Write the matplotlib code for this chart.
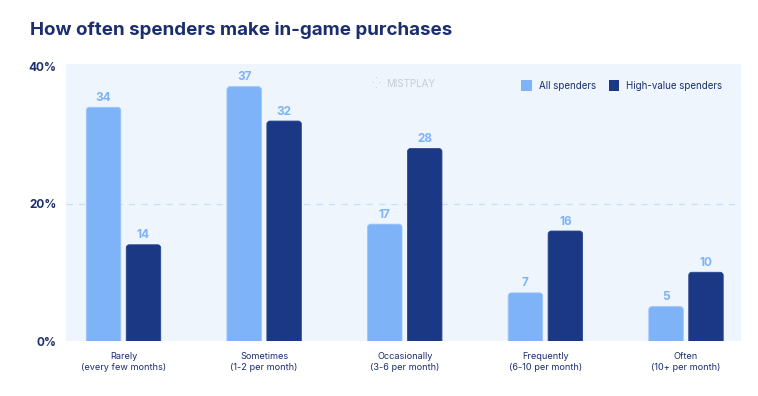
#!/usr/bin/env python3

import matplotlib
matplotlib.use("Agg")
import matplotlib.pyplot as plt
from matplotlib.patches import FancyBboxPatch, Patch
import numpy as np

categories = ["Rarely\n(every few months)", "Sometimes\n(1-2 per month)",
              "Occasionally\n(3-6 per month)", "Frequently\n(6-10 per month)",
              "Often\n(10+ per month)"]
all_spenders = [34, 37, 17, 7, 5]
high_value = [14, 32, 28, 16, 10]
yticks = [0, 20, 40]

light = "#7EB3F8"
dark = "#1B3884"
navy = "#1B2E6E"
bg = "#EEF5FD"

plt.rcParams['font.family'] = ['Inter', 'DejaVu Sans']

fig = plt.figure(figsize=(7.58, 3.96), dpi=100)
ax = fig.add_axes([66 / 758, 1 - 341 / 396, 675 / 758, 277 / 396])
ax.set_facecolor(bg)

x = np.arange(len(categories))
w = 0.245
off = 0.142
b1 = ax.bar(x - off, all_spenders, w, color=light, zorder=3)
b2 = ax.bar(x + off, high_value, w, color=dark, zorder=3)

# rounded tops: swap each rectangle for a rounded box
rx, ry = 0.022, 0.45
for bars, ec in ((b1, "#9CC4F8"), (b2, "#2B4690")):
    for r in bars:
        r.set_visible(False)
        p = FancyBboxPatch((r.get_x(), -1), r.get_width(), r.get_height() + 1,
                           boxstyle=f"round,pad=0,rounding_size={rx}",
                           mutation_aspect=ry / rx, facecolor=r.get_facecolor(),
                           edgecolor=ec, linewidth=0.6, zorder=3)
        ax.add_patch(p)

for bars, vals in ((b1, all_spenders), (b2, high_value)):
    for r, v in zip(bars, vals):
        ax.annotate(str(v), (r.get_x() + r.get_width() / 2, v), xytext=(0, 2.5),
                    textcoords="offset points", ha="center", va="bottom",
                    color=light, fontsize=8.5, fontweight="bold")

ax.axhline(20, color="#C9DEF7", linestyle=(0, (5, 5)), linewidth=0.9, zorder=1)

ax.set_xlim(-0.409, 4.391)
ax.set_ylim(0, 40.3)
ax.set_yticks(yticks)
ax.set_yticklabels([f"{t}%" for t in yticks], fontsize=8.5, fontweight="bold", color=navy)
ax.set_xticks(x)
ax.set_xticklabels(categories, fontsize=6.6, color=navy, linespacing=1.2)
ax.tick_params(axis="both", length=0)
ax.tick_params(axis="y", pad=7)
ax.tick_params(axis="x", pad=8)
for s in ax.spines.values():
    s.set_visible(False)

handles = [Patch(facecolor=light, label="All spenders"),
           Patch(facecolor=dark, label="High-value spenders")]
leg = ax.legend(handles=handles, loc="upper right", bbox_to_anchor=(0.985, 0.975), ncol=2,
                frameon=False, fontsize=7, handlelength=1.1, handleheight=1.4,
                handletextpad=0.7, columnspacing=1.3, labelcolor=navy)

fig.text(30 / 758, 1 - 30 / 396, "How often spenders make in-game purchases",
         fontsize=13.5, fontweight="bold", color=navy, va="center", ha="left")

# watermark
fig.text(386 / 758, 1 - 84 / 396, "MISTPLAY", fontsize=7, color="#C8CCD4", va="center", ha="left")
fig.text(372 / 758, 1 - 84 / 396, "⁛", fontsize=8, color="#C8CCD4", va="center", ha="left")

fig.savefig("out.png", dpi=100, facecolor="white")
